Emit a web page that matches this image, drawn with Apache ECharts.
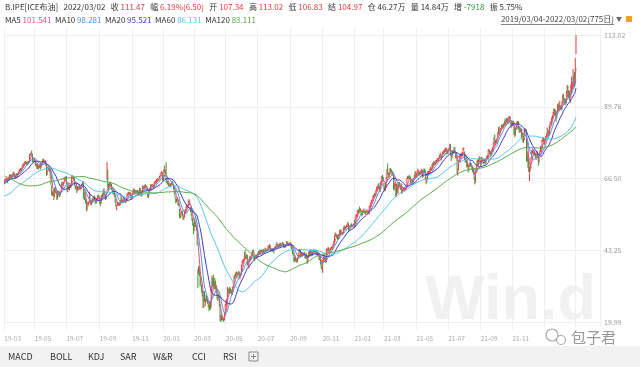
<!DOCTYPE html>
<html>
<head>
<meta charset="utf-8">
<script src="https://cdn.jsdelivr.net/npm/echarts@6/dist/echarts.min.js"></script>
<style>
html, body { margin: 0; padding: 0; background: #fff; }
#main { width: 640px; height: 367px; }
</style>
</head>
<body>
<div id="main"></div>
<script>
// 布油(B.IPE) 日K 2019/03/04 - 2022/03/02

var FONT = '"Noto Sans CJK SC", "Noto Sans", sans-serif';

// 休市日（周末以外）
var holidays = ['2019-04-19', '2019-12-25', '2020-01-01', '2020-04-10', '2020-12-25', '2021-01-01', '2021-04-02', '2021-12-27'];

// 区间开始前的收盘价，只用来算均线
var preClose = [78.1, 78.05, 79.0, 79.4, 78.7, 78.8, 81.2, 81.9, 81.3, 81.7, 82.7,
  85.0, 84.8, 86.3, 84.6, 84.2, 83.9, 85.0, 83.1, 80.3, 80.4, 80.8, 81.4, 80.05, 79.3, 79.8, 79.8, 76.4, 76.2, 76.9, 77.6, 77.3, 76.3, 75.5,
  72.9, 73.0, 72.2, 72.1, 72.1, 70.65, 70.2, 70.1, 65.5, 66.1, 66.6, 67.0, 66.8, 62.5, 63.8, 62.6, 58.8, 60.5, 60.2, 58.8, 59.5, 58.7,
  62.0, 61.1, 62.1, 60.1, 61.7, 60.0, 60.2, 60.15, 61.45, 60.3, 59.6, 56.3, 57.2, 54.35, 53.8, 50.5, 54.5, 52.2, 52.2, 53.8,
  54.9, 55.95, 57.06, 57.3, 58.7, 61.4, 61.7, 60.5, 59.0, 60.6, 61.3, 61.2, 62.7, 62.7, 61.5, 61.1, 61.1, 61.6, 59.9, 60.0, 61.3, 61.9,
  61.9, 62.5, 62.0, 62.7, 61.6, 62.1, 61.5, 62.4, 63.6, 64.6, 66.25, 66.5, 66.45, 67.1, 66.9, 67.1, 64.8, 65.2, 66.4, 66.3,
  65.1];

// 每月日K [开, 收, 低, 高]
var k2019_03 = [[65.2,65.7,64.8,66.1],[65.6,65.9,65.3,66.4],[65.9,66.0,65.4,66.6],[66.1,66.3,65.5,66.8],[66.2,65.7,65.0,66.4],[65.8,66.6,65.6,66.9],[66.5,66.7,66.1,67.1],[66.8,67.6,66.5,67.9],[67.5,67.2,66.9,67.8],[67.3,67.2,66.6,67.7],[67.1,67.5,66.9,67.7],[67.6,67.6,67.0,68.1],[67.7,68.5,67.4,68.7],[68.4,67.9,67.6,68.7],[67.8,67.0,66.6,68.0],[67.0,67.2,66.4,67.6],[67.3,68.0,67.0,68.2],[67.9,67.8,67.2,68.3],[67.7,67.8,66.9,68.2],[67.9,68.4,67.6,68.6]];
var k2019_04 = [[68.5,69.0,68.3,69.4],[69.1,69.4,68.6,69.7],[69.4,69.3,68.9,69.9],[69.3,69.4,68.9,69.8],[69.5,70.3,69.3,70.6],[70.4,71.1,70.0,71.3],[71.0,71.0,70.6,71.3],[70.9,71.7,70.7,71.9],[71.7,71.8,71.1,72.1],[71.9,71.6,71.3,72.3],[71.5,71.2,70.9,71.9],[71.3,71.7,71.1,72.0],[71.7,71.6,71.1,72.1],[71.7,72.0,71.4,72.3],[72.1,74.0,72.0,74.3],[74.0,74.5,73.8,74.8],[74.5,74.6,74.0,74.9],[74.6,74.4,74.2,75.6],[74.4,72.2,71.9,74.5],[72.3,72.0,71.5,72.6],[72.0,72.8,71.9,73.0]];
var k2019_05 = [[72.7,72.2,71.9,73.0],[72.1,70.8,70.6,72.3],[70.7,70.9,70.3,71.2],[70.0,71.2,69.6,71.4],[71.2,69.9,69.6,71.3],[69.8,70.4,69.3,70.6],[70.5,70.4,69.8,70.9],[70.3,70.6,69.9,71.0],[70.5,70.2,69.5,71.6],[70.3,71.2,70.1,71.4],[71.2,71.8,70.8,72.0],[71.8,72.6,71.6,72.8],[72.5,72.2,71.8,72.9],[72.1,72.0,71.5,72.3],[72.0,72.2,71.6,72.6],[72.2,71.0,70.6,72.3],[70.8,67.8,67.3,70.9],[67.9,68.7,67.7,69.0],[68.8,70.1,68.7,70.2],[70.0,70.1,69.3,70.4],[70.0,69.5,68.8,70.2],[69.4,66.9,66.7,69.5],[66.9,64.5,64.4,66.9]];
var k2019_06 = [[64.0,61.3,61.0,64.2],[61.2,61.3,60.8,62.3],[61.5,62.0,60.9,62.5],[61.9,60.6,59.5,62.1],[60.7,63.3,60.5,63.6],[63.2,62.3,62.0,63.9],[62.3,62.3,61.6,62.6],[62.2,60.0,59.5,62.3],[60.1,61.3,59.8,62.6],[61.4,62.0,61.2,62.6],[62.0,60.9,60.5,62.1],[60.9,62.1,60.5,62.4],[62.2,61.8,61.1,62.3],[62.0,64.5,61.9,64.8],[64.5,65.2,64.2,65.5],[65.1,64.9,64.2,65.4],[64.9,65.1,64.3,65.3],[65.2,66.5,65.0,66.9],[66.4,66.6,66.0,67.0],[66.6,66.6,66.1,67.2]];
var k2019_07 = [[66.9,65.1,64.8,67.3],[65.0,62.4,62.0,65.2],[62.6,63.8,62.2,64.1],[63.7,63.3,62.9,64.1],[63.3,64.2,62.7,64.5],[64.1,64.1,63.6,64.6],[64.1,64.2,63.4,64.6],[64.3,67.0,64.1,67.2],[67.0,67.0,66.4,67.6],[67.0,66.7,66.2,67.1],[66.7,66.5,65.9,67.1],[66.4,64.4,64.2,66.8],[64.4,63.7,63.0,64.5],[63.6,63.7,63.0,64.3],[63.6,62.5,61.8,64.2],[62.6,63.3,62.5,63.9],[63.3,63.3,62.9,64.0],[63.2,63.8,62.7,64.1],[63.8,63.4,63.1,64.1],[63.4,63.5,62.9,63.9],[63.6,63.7,63.1,64.0],[63.7,64.7,63.6,64.9],[64.7,65.2,64.3,65.4]];
var k2019_08 = [[65.1,60.5,60.1,65.6],[60.4,61.9,59.5,62.2],[61.6,59.8,59.4,62.0],[59.7,58.9,58.4,60.1],[59.0,56.2,55.9,59.5],[56.3,57.4,56.1,57.5],[57.5,58.5,57.3,58.8],[58.5,58.6,57.8,59.0],[58.6,61.3,58.4,62.3],[61.3,59.5,59.3,61.4],[59.5,58.2,57.8,59.6],[58.2,58.6,57.9,59.2],[58.7,59.7,58.5,60.1],[59.8,60.0,59.1,60.4],[60.0,60.3,59.7,60.8],[60.3,60.0,59.4,61.0],[60.0,59.3,58.4,60.4],[59.2,58.7,58.2,59.5],[58.7,59.5,58.6,60.2],[59.6,60.5,59.3,61.0],[60.5,61.1,60.2,61.3],[61.0,60.4,60.2,61.0]];
var k2019_09 = [[60.3,58.7,58.3,60.5],[58.9,58.3,57.6,59.0],[58.4,60.7,58.3,61.0],[60.8,60.2,59.9,61.3],[60.3,61.5,60.1,61.8],[61.6,62.6,61.2,63.0],[62.6,62.4,61.8,63.3],[62.3,60.8,60.5,62.4],[60.8,60.4,59.5,61.1],[60.3,60.2,59.8,60.8],[66.3,69.0,65.9,71.9],[68.7,64.6,63.4,69.3],[64.7,63.6,62.7,64.8],[63.6,64.4,63.3,64.9],[64.4,64.3,64.0,65.5],[64.2,64.8,63.6,65.0],[64.7,63.1,62.8,64.8],[63.1,62.4,61.8,63.5],[62.5,62.1,61.4,62.7],[62.1,61.9,61.3,62.4],[61.8,60.8,60.6,62.0]];
var k2019_10 = [[60.8,59.3,58.7,61.1],[59.2,57.7,57.4,59.4],[57.7,57.7,56.2,58.0],[57.8,58.4,57.6,58.7],[58.3,58.4,57.9,58.8],[58.4,58.2,57.7,59.0],[58.1,58.3,57.6,58.6],[58.2,59.1,57.9,59.5],[59.2,60.5,59.0,61.0],[60.4,59.4,59.0,60.6],[59.3,58.7,58.6,59.7],[58.8,59.4,58.5,59.7],[59.4,59.9,59.2,60.4],[59.8,59.4,58.8,60.2],[59.4,59.0,58.6,59.5],[59.0,59.7,58.8,60.0],[59.6,61.2,59.3,61.5],[61.1,61.7,60.8,61.9],[61.7,62.0,61.3,62.2],[61.8,61.6,61.3,62.1],[61.6,61.6,61.0,62.0],[61.6,60.6,60.2,62.0],[60.6,60.2,59.6,60.9]];
var k2019_11 = [[60.2,61.7,59.8,61.9],[61.8,62.1,61.6,62.6],[62.1,63.0,61.9,63.3],[62.9,62.3,61.6,63.1],[62.2,62.3,61.3,62.6],[62.3,62.5,61.8,62.8],[62.5,62.2,61.5,62.8],[62.2,62.1,61.8,62.6],[62.1,62.4,61.6,62.7],[62.3,61.3,61.2,62.5],[61.4,63.3,61.3,63.5],[63.2,62.4,62.1,63.4],[62.4,60.9,60.7,62.5],[60.9,62.4,60.6,62.7],[62.4,64.0,62.2,64.2],[63.9,63.4,63.1,64.2],[63.4,63.7,63.0,64.0],[63.6,64.3,63.4,64.5],[64.3,64.1,63.8,64.6],[64.0,63.9,63.5,64.3],[63.8,62.4,62.2,64.0]];
var k2019_12 = [[61.1,60.9,60.3,61.5],[61.0,61.0,60.2,61.4],[61.2,63.0,60.9,63.3],[63.0,63.0,62.7,63.6],[63.1,64.4,62.9,64.6],[64.3,64.3,63.9,64.7],[64.2,64.3,63.8,64.6],[64.3,64.3,63.9,64.7],[64.2,63.7,63.4,64.4],[63.8,65.2,63.6,65.5],[65.2,65.3,64.9,65.7],[65.3,65.3,64.9,65.9],[65.3,66.1,65.1,66.3],[66.1,66.5,65.9,66.6],[66.5,66.1,65.6,66.6],[66.1,66.4,65.9,66.5],[66.4,67.2,66.3,67.3],[67.2,67.9,67.2,68.0],[68.0,68.2,67.8,68.5],[68.2,68.4,68.0,69.0],[68.4,66.0,65.8,68.5]];
var k2020_01 = [[66.3,66.3,65.6,67.0],[66.5,68.6,66.1,69.5],[68.9,68.9,68.4,70.7],[68.9,68.3,67.9,69.2],[68.4,65.4,65.2,71.8],[65.5,65.4,64.9,66.0],[65.4,65.0,64.6,65.7],[64.9,64.2,64.0,65.1],[64.3,64.5,63.9,64.9],[64.4,64.0,63.6,64.6],[64.0,64.6,63.8,64.9],[64.6,64.9,64.3,65.1],[64.9,65.2,64.8,65.6],[65.3,64.6,64.3,65.7],[64.6,63.2,62.9,64.8],[63.3,62.0,61.6,63.4],[62.0,60.7,60.3,62.3],[60.1,59.3,58.5,60.3],[59.3,59.5,58.8,59.9],[59.6,59.8,59.3,60.5],[59.8,58.3,57.8,60.0],[58.4,58.2,57.5,59.5]];
var k2020_02 = [[56.6,54.5,53.8,56.7],[54.3,54.0,53.5,55.0],[54.2,55.3,53.7,55.6],[55.4,55.9,54.9,56.1],[55.8,54.5,54.3,56.0],[54.2,53.3,53.1,54.5],[53.6,54.0,53.1,54.5],[54.1,55.8,53.9,56.1],[55.8,56.3,55.2,56.6],[56.3,57.3,55.8,57.5],[57.3,57.7,56.9,58.1],[57.8,57.8,57.1,58.0],[57.8,59.1,57.7,59.3],[59.0,59.3,58.8,59.9],[59.2,58.5,57.8,59.4],[57.0,56.3,55.6,57.4],[56.4,55.0,54.4,56.6],[54.9,53.4,52.8,55.0],[53.3,52.2,51.2,53.6],[51.6,50.5,48.4,52.0]];
var k2020_03 = [[50.0,51.9,49.5,52.7],[52.0,51.9,50.9,53.8],[52.0,51.1,50.8,52.6],[51.3,50.0,49.6,51.5],[50.0,45.3,44.8,50.3],[36.5,34.4,31.0,37.2],[35.7,37.2,35.5,38.2],[37.3,35.8,34.8,37.9],[35.0,33.2,31.5,35.4],[32.6,33.9,31.9,34.6],[32.0,30.1,29.5,32.0],[30.2,28.7,28.3,30.5],[28.8,24.9,24.5,29.3],[25.8,28.5,24.6,29.0],[29.5,27.0,26.6,30.0],[26.4,27.0,25.1,27.6],[27.7,27.2,26.6,28.9],[27.5,27.4,26.4,28.4],[27.4,26.3,25.9,27.5],[26.2,24.9,24.8,26.6],[25.4,24.2,23.5,25.6],[24.3,26.3,24.0,26.8]];
var k2020_04 = [[26.0,24.7,24.0,26.4],[24.9,29.9,24.6,31.5],[30.5,34.1,29.9,35.0],[33.8,33.1,31.4,34.3],[33.5,31.9,31.6,35.3],[32.0,32.8,30.8,33.3],[33.0,31.5,30.6,34.3],[32.5,31.7,30.5,33.4],[31.5,29.6,29.3,32.0],[29.5,27.7,27.3,29.7],[27.9,27.8,26.8,28.3],[28.2,28.1,27.7,29.0],[27.9,25.6,25.1,28.3],[25.4,20.5,20.3,25.8],[20.6,20.4,19.99,22.4],[20.8,21.3,20.5,22.2],[21.4,21.4,20.7,22.0],[21.4,20.4,20.1,21.6],[20.6,20.5,20.2,21.3],[20.8,22.5,20.5,23.0],[22.8,25.3,22.6,25.8]];
var k2020_05 = [[25.9,26.4,25.5,27.1],[26.0,27.2,24.8,27.5],[27.4,31.0,27.2,31.4],[30.9,29.7,29.4,31.0],[29.8,29.5,28.9,30.5],[29.7,31.0,29.4,31.4],[31.0,29.6,29.3,31.1],[29.8,30.0,29.1,30.6],[30.1,29.2,28.9,30.4],[29.3,31.1,28.8,31.4],[31.2,32.5,30.9,32.7],[32.6,34.8,32.5,35.0],[34.8,34.7,33.9,35.4],[34.7,35.8,34.5,36.0],[35.8,36.1,35.5,36.4],[36.0,35.1,34.2,36.2],[35.2,35.5,35.0,35.9],[35.6,36.2,35.4,36.5],[36.1,34.7,34.4,36.3],[34.8,35.3,33.8,35.5],[35.2,35.3,34.7,35.8]];
var k2020_06 = [[35.8,38.3,35.2,38.6],[38.4,39.6,38.0,39.9],[39.6,39.8,38.9,40.4],[39.8,40.0,39.3,40.4],[40.2,42.3,40.1,42.6],[42.4,40.8,40.5,43.4],[40.8,41.2,40.3,41.5],[41.2,41.7,40.7,41.9],[41.7,38.6,38.4,41.8],[38.5,38.7,37.9,39.2],[38.6,39.7,37.3,39.9],[39.8,41.0,39.4,41.2],[40.9,40.7,40.0,41.3],[40.6,41.5,40.2,41.7],[41.6,42.2,41.3,42.5],[42.2,43.1,41.9,43.3],[43.1,42.6,42.3,43.5],[42.6,40.3,40.0,42.7],[40.3,41.1,39.8,41.3],[41.1,41.0,40.6,41.5],[41.0,41.7,40.5,41.9],[41.7,41.2,40.7,41.9]];
var k2020_07 = [[41.3,42.0,41.0,42.4],[42.1,42.8,41.9,43.0],[42.8,42.8,42.4,43.0],[42.9,42.1,42.0,43.5],[42.2,43.1,41.9,43.3],[43.1,43.3,42.8,43.5],[43.2,42.4,42.2,43.4],[42.3,43.2,41.8,43.4],[43.2,42.7,42.3,43.7],[42.6,42.9,42.1,43.2],[42.9,43.8,42.7,44.1],[43.8,43.4,43.0,43.9],[43.3,43.1,42.8,43.5],[43.1,43.3,42.9,43.8],[43.3,44.3,43.1,44.9],[44.3,44.3,43.8,44.6],[44.2,44.9,43.9,45.2],[44.9,43.3,43.0,45.0],[43.4,43.3,42.8,43.7],[43.3,43.4,42.9,43.8],[43.4,43.2,42.8,43.7],[43.3,43.8,42.9,44.0],[43.7,43.3,42.2,43.8]];
var k2020_08 = [[43.5,44.2,43.4,44.4],[44.1,44.4,43.6,44.6],[44.4,45.2,44.2,45.4],[45.2,45.1,44.8,45.9],[45.1,44.4,44.0,45.2],[44.4,45.0,44.2,45.3],[45.0,44.5,44.3,45.3],[44.6,45.4,44.3,45.7],[45.4,45.0,44.6,45.7],[45.0,44.8,44.5,45.2],[44.9,45.4,44.8,45.6],[45.4,45.5,44.9,46.0],[45.6,44.7,44.2,45.7],[44.6,44.9,44.1,45.1],[45.0,44.4,43.9,45.1],[44.4,45.1,44.3,45.3],[45.2,45.9,44.9,46.2],[45.9,45.6,45.3,46.1],[45.7,45.1,44.8,46.0],[45.1,45.1,44.6,45.5],[45.0,45.3,44.8,45.5]];
var k2020_09 = [[45.2,45.6,45.0,46.0],[45.5,44.4,44.2,45.7],[44.4,44.1,43.6,44.7],[44.0,42.7,42.0,44.1],[42.6,42.0,41.5,42.8],[41.9,39.8,39.3,42.0],[39.9,40.8,39.7,41.2],[40.8,40.1,39.6,41.1],[40.1,39.8,39.4,40.5],[39.8,39.6,39.2,40.6],[39.6,40.5,39.4,40.9],[40.6,42.2,40.4,42.3],[42.2,43.3,41.9,43.6],[43.3,43.2,42.8,43.7],[43.1,41.4,40.8,43.3],[41.4,41.7,41.3,42.0],[41.8,41.8,41.3,42.3],[41.8,41.9,41.3,42.1],[41.9,41.9,41.5,42.2],[42.0,42.4,41.6,42.8],[42.4,41.0,40.6,42.5],[41.0,41.0,40.5,41.4]];
var k2020_10 = [[42.1,40.9,40.6,42.3],[40.8,39.3,38.8,41.0],[39.4,41.3,39.2,41.5],[41.2,42.7,41.0,42.9],[42.6,42.0,41.5,43.0],[42.1,43.3,41.9,43.5],[43.3,42.9,42.4,43.6],[42.8,41.7,41.3,43.0],[41.7,42.5,41.4,42.7],[42.5,43.3,42.1,43.5],[43.3,43.2,42.6,43.6],[43.1,42.9,42.5,43.4],[42.9,42.6,42.1,43.2],[42.6,43.2,42.1,43.5],[43.2,41.7,41.5,43.3],[41.8,42.5,41.6,42.7],[42.5,41.8,41.3,42.7],[41.7,40.5,40.0,41.8],[40.5,41.2,40.1,41.5],[41.2,39.1,38.6,41.3],[39.1,37.7,37.3,39.3],[37.7,37.5,36.9,38.1]];
var k2020_11 = [[37.8,40.0,35.9,40.2],[40.0,40.7,39.4,41.2],[40.8,41.2,40.1,42.1],[41.2,40.9,40.3,41.6],[40.9,39.5,39.1,41.0],[39.5,42.4,39.4,43.8],[42.4,43.6,42.0,43.8],[43.6,43.8,43.2,44.2],[43.9,43.5,43.1,44.2],[43.4,42.8,42.2,43.6],[42.8,43.8,42.5,44.0],[43.8,43.8,43.3,44.2],[43.8,44.3,43.6,44.5],[44.3,44.2,43.5,44.5],[44.2,45.0,43.9,45.2],[45.1,46.1,44.9,46.3],[46.1,47.9,45.9,48.1],[47.9,48.6,47.7,49.0],[48.6,47.8,47.5,48.7],[47.8,48.2,47.5,48.4],[47.9,47.6,46.6,48.2]];
var k2020_12 = [[47.9,47.4,46.8,48.5],[47.4,48.3,46.9,48.6],[48.3,48.7,48.0,49.9],[48.7,49.3,48.5,49.9],[49.2,48.8,48.4,49.9],[48.7,48.8,48.3,49.1],[48.8,48.9,48.4,49.2],[48.9,50.3,48.7,50.6],[50.3,51.0,49.7,51.3],[50.9,50.3,49.8,51.0],[50.3,50.8,50.1,51.0],[50.8,51.1,50.6,51.4],[51.1,51.5,50.8,51.7],[51.5,52.3,51.2,52.5],[52.0,50.9,49.6,52.0],[50.8,50.1,49.8,51.0],[50.1,51.2,49.9,51.3],[51.2,51.3,50.9,51.6],[51.5,50.9,50.7,52.0],[50.9,51.1,50.6,51.3],[51.2,51.3,51.0,51.7],[51.3,51.8,51.1,52.0]];
var k2021_01 = [[51.9,51.1,50.4,53.0],[51.2,53.6,50.8,53.9],[53.7,54.3,53.6,54.9],[54.3,54.4,53.9,54.9],[54.5,56.0,54.3,56.3],[56.0,55.7,55.0,56.3],[55.8,56.6,55.2,56.7],[56.5,56.1,55.7,57.4],[56.0,56.4,55.6,56.8],[56.3,55.1,54.7,56.4],[55.1,54.8,54.2,55.3],[54.8,55.9,54.7,56.1],[55.8,56.1,55.5,56.4],[56.1,56.1,55.5,56.7],[56.0,55.4,55.1,56.1],[55.4,55.9,54.9,56.0],[55.9,55.9,55.4,56.2],[55.9,56.0,55.5,56.5],[55.9,55.5,54.8,56.0],[55.6,55.9,55.1,56.2]];
var k2021_02 = [[55.0,57.3,54.9,57.5],[57.3,57.5,56.9,58.0],[57.5,58.5,57.3,58.8],[58.5,59.3,58.3,59.5],[59.3,59.3,58.8,59.8],[59.4,60.6,59.2,60.9],[60.6,61.1,60.2,61.3],[61.2,61.1,60.6,61.7],[61.1,61.5,60.9,61.8],[61.4,62.4,60.6,62.8],[62.5,63.3,62.3,63.8],[63.3,63.4,62.9,64.2],[63.4,64.3,63.2,64.6],[64.4,63.9,63.2,65.0],[63.9,62.9,62.2,64.0],[63.0,65.2,62.2,65.3],[65.3,65.4,64.1,65.6],[65.4,67.0,64.9,67.2],[67.1,66.9,66.0,67.7],[66.7,66.1,65.5,67.0]];
var k2021_03 = [[64.4,63.7,62.9,64.9],[63.6,62.7,62.3,64.1],[62.8,64.1,62.5,64.9],[64.0,66.7,63.7,67.0],[66.8,69.4,66.6,69.6],[69.5,68.2,67.8,71.4],[68.2,67.5,66.8,68.5],[67.4,67.9,66.9,68.2],[67.9,69.6,67.6,69.8],[69.6,69.2,68.8,69.9],[69.2,68.9,68.3,69.5],[68.8,68.4,67.6,68.9],[68.4,68.0,67.4,68.8],[67.9,63.3,62.9,68.2],[63.4,64.5,62.6,64.8],[64.5,64.6,63.7,65.5],[64.5,60.8,60.5,64.6],[61.0,64.4,60.7,64.9],[64.3,62.0,61.8,64.5],[62.1,64.6,61.6,64.9],[64.7,65.0,63.7,65.4],[65.0,64.1,63.8,65.4],[64.1,63.5,62.9,64.3]];
var k2021_04 = [[63.2,64.9,62.7,65.0],[64.5,62.2,61.5,64.7],[62.1,62.7,61.8,63.0],[62.7,63.2,62.5,63.7],[63.2,63.2,62.5,63.7],[63.2,63.0,62.3,63.6],[62.9,63.3,62.6,63.8],[63.3,63.7,62.9,64.0],[63.8,66.6,63.5,66.8],[66.6,66.9,66.3,67.4],[66.9,66.8,66.4,67.3],[66.7,67.1,66.3,67.7],[67.1,66.6,66.3,67.4],[66.6,65.3,64.9,67.0],[65.3,65.4,64.4,65.6],[65.5,66.1,65.2,66.4],[66.0,65.7,64.9,66.1],[65.7,66.4,65.3,66.6],[66.5,67.3,66.1,67.6],[67.3,68.6,67.1,68.9],[68.6,67.3,66.6,68.7]];
var k2021_05 = [[67.1,67.6,66.8,68.1],[67.6,68.9,67.3,69.2],[69.0,69.0,68.4,69.7],[68.9,68.1,67.6,69.0],[68.1,68.3,67.5,68.7],[68.3,68.3,67.9,69.1],[68.3,68.6,67.6,68.9],[68.6,69.3,68.2,69.6],[69.2,67.1,66.8,69.3],[67.1,68.7,66.9,68.8],[68.8,69.5,68.4,69.7],[69.5,68.7,68.5,69.7],[68.7,66.7,66.0,69.2],[66.4,65.1,64.6,66.8],[65.1,66.4,65.1,66.9],[66.5,68.5,66.3,68.8],[68.4,68.7,67.9,69.0],[68.6,68.9,68.1,69.1],[68.9,69.5,68.3,69.7],[69.5,69.6,69.2,70.3],[69.6,69.3,69.0,69.9]];
var k2021_06 = [[69.6,70.3,69.2,71.1],[70.2,71.4,69.9,71.6],[71.3,71.3,70.7,72.0],[71.3,71.9,71.0,72.1],[71.8,71.5,70.8,71.9],[71.5,72.2,71.1,72.4],[72.2,72.2,71.5,72.6],[72.2,72.5,71.9,73.0],[72.5,72.7,72.1,73.1],[72.7,72.9,72.0,73.3],[72.9,73.9,72.8,74.1],[73.9,74.4,73.6,74.9],[74.5,73.1,72.3,74.6],[73.0,73.5,72.6,73.8],[73.4,74.9,73.1,75.3],[74.9,74.8,74.2,75.2],[74.8,75.2,74.6,75.7],[75.2,75.6,74.9,76.0],[75.6,76.2,75.3,76.4],[76.2,76.2,75.4,76.6],[76.1,74.8,74.3,76.3],[74.9,75.1,74.5,75.5]];
var k2021_07 = [[74.6,75.8,74.5,76.2],[75.8,76.2,75.5,76.4],[76.3,77.2,76.1,77.8],[77.1,74.5,73.9,77.6],[74.2,73.4,72.2,74.8],[73.6,74.1,73.0,74.3],[74.1,75.6,73.9,75.7],[75.4,75.2,74.5,75.8],[75.2,76.5,74.9,76.6],[76.6,75.0,74.7,76.8],[74.8,73.5,73.2,75.1],[73.6,73.6,72.9,74.0],[73.4,68.6,68.0,73.6],[68.7,69.4,67.4,69.7],[69.4,72.2,69.2,72.4],[72.0,73.8,71.9,74.0],[73.8,74.1,73.4,74.4],[74.1,74.5,73.3,74.6],[74.4,74.5,73.8,74.9],[74.5,74.7,73.6,75.0],[74.7,76.1,74.4,76.4],[76.1,76.3,75.7,76.6]];
var k2021_08 = [[75.2,72.9,72.5,75.3],[72.8,72.4,71.6,73.3],[72.4,72.4,71.8,73.1],[72.5,70.4,70.1,72.8],[70.5,70.7,70.2,71.5],[70.6,69.0,68.4,70.7],[69.1,70.6,69.0,70.9],[70.5,71.4,70.3,71.6],[71.4,71.3,70.5,71.8],[71.2,70.6,70.2,71.5],[70.6,69.5,69.2,70.8],[69.4,69.0,68.6,70.0],[69.1,68.2,67.9,69.4],[68.2,66.5,66.2,68.6],[66.4,65.2,64.6,66.8],[65.3,68.8,65.1,69.0],[68.9,71.1,68.7,71.2],[71.1,72.3,70.8,72.4],[72.3,71.1,70.8,72.6],[71.1,72.7,70.8,72.8],[72.7,73.4,72.4,73.7],[73.3,71.6,71.1,73.5]];
var k2021_09 = [[71.6,71.6,70.6,72.3],[71.6,73.0,71.4,73.5],[73.1,72.6,72.1,73.3],[72.6,72.2,71.9,73.1],[72.1,71.7,71.1,72.4],[71.7,72.6,71.5,72.9],[72.7,71.5,71.2,73.1],[71.5,72.9,71.4,73.1],[73.0,73.5,72.4,73.8],[73.5,73.6,72.9,74.0],[73.6,75.5,73.2,75.8],[75.5,75.7,75.3,76.1],[75.6,75.3,74.6,75.9],[75.2,74.9,73.5,75.3],[74.9,74.4,73.9,75.4],[74.5,75.5,74.3,76.0],[75.5,76.2,75.2,76.6],[76.2,78.1,75.9,78.3],[78.2,79.5,78.0,80.0],[79.4,78.1,77.8,80.8],[78.2,78.6,77.2,78.9],[78.6,78.5,77.9,79.1]];
var k2021_10 = [[78.3,79.3,77.7,79.6],[79.3,81.3,79.1,81.5],[81.3,82.6,81.0,83.1],[82.6,81.1,80.5,83.5],[81.1,82.0,80.5,82.2],[82.0,82.4,81.7,82.9],[82.5,83.7,82.2,84.0],[83.7,83.4,82.9,84.0],[83.4,83.2,82.6,84.0],[83.3,84.0,83.0,84.4],[84.0,84.9,83.8,85.1],[84.8,84.3,83.7,86.0],[84.3,85.1,83.8,85.4],[85.1,85.8,84.9,86.1],[85.8,84.6,84.4,86.2],[84.6,85.5,84.1,85.8],[85.6,86.0,85.2,86.7],[86.0,86.4,85.8,86.7],[86.4,84.6,84.3,86.5],[84.6,84.3,82.8,84.8],[84.2,84.4,83.3,84.8]];
var k2021_11 = [[83.8,84.7,83.5,85.0],[84.8,84.7,83.9,85.2],[84.5,81.0,80.6,84.6],[81.2,80.5,79.9,83.1],[80.6,82.7,80.4,82.9],[82.7,83.4,82.3,83.7],[83.4,84.8,83.1,85.0],[84.8,84.8,83.8,85.2],[84.9,82.6,82.3,85.1],[82.7,82.2,81.4,83.4],[82.2,82.1,81.3,82.8],[82.1,82.4,81.6,82.7],[82.4,80.3,79.5,82.6],[80.2,81.2,79.9,81.5],[81.2,78.9,78.2,81.4],[78.8,79.7,78.1,80.4],[79.8,82.3,78.9,82.5],[82.3,82.3,81.5,82.8],[82.3,82.2,81.8,82.6],[82.0,72.7,72.1,82.3],[73.2,73.4,71.9,75.3],[73.6,70.6,69.8,74.2]];
var k2021_12 = [[71.2,68.9,68.6,73.3],[69.2,69.7,65.7,70.3],[69.8,69.9,68.9,71.4],[70.1,73.1,69.8,73.4],[73.0,75.4,72.9,75.6],[75.4,75.8,74.5,76.2],[75.8,75.2,74.9,76.1],[75.2,75.2,74.1,75.6],[75.2,74.4,73.9,75.5],[74.3,73.7,73.0,74.9],[73.7,73.9,72.5,74.3],[73.9,75.0,73.7,75.6],[75.0,73.5,73.0,75.2],[73.3,71.5,70.6,73.5],[71.7,74.0,71.6,74.2],[74.0,75.3,73.8,75.6],[75.3,76.9,75.1,77.1],[76.9,76.1,75.8,76.9],[76.2,78.9,76.0,79.0],[78.9,79.2,78.4,79.7],[79.2,79.3,78.4,79.9],[79.3,77.8,77.4,79.5]];
var k2022_01 = [[77.7,79.0,77.5,79.3],[79.0,80.0,78.6,80.3],[80.1,80.8,79.8,81.1],[80.8,82.0,80.3,83.0],[82.0,81.8,81.2,82.6],[81.7,80.9,80.2,82.0],[80.9,83.7,80.7,83.8],[83.7,84.7,83.5,84.9],[84.8,84.5,83.9,85.1],[84.5,86.1,84.3,86.3],[86.1,86.5,85.6,87.0],[86.5,87.5,86.1,88.1],[87.5,88.4,87.0,89.2],[88.5,88.4,87.2,89.1],[88.3,87.9,86.7,88.8],[87.8,86.3,84.9,88.0],[86.3,88.2,86.0,88.4],[88.2,90.0,88.0,90.5],[90.0,89.3,88.5,91.0],[89.3,90.0,88.6,90.5],[90.0,91.2,89.1,91.7]];
var k2022_02 = [[90.0,89.2,88.7,90.2],[89.2,89.5,88.6,90.0],[89.4,91.1,88.9,91.5],[91.1,93.3,90.8,93.7],[93.2,92.7,91.7,94.0],[92.6,90.8,90.5,92.7],[90.8,91.6,90.3,91.9],[91.6,91.4,90.4,92.1],[91.4,94.4,90.9,95.0],[94.5,96.5,94.1,96.8],[96.4,93.3,92.9,96.7],[93.2,94.8,92.6,95.1],[94.8,93.0,91.8,95.0],[92.9,93.5,90.9,93.8],[93.6,95.4,92.9,97.0],[95.4,96.8,94.2,99.5],[96.8,96.8,95.6,97.6],[97.0,99.1,96.8,102.0],[99.0,97.9,96.0,100.0],[99.5,98.0,96.2,101.0]];
var k2022_03 = [[98.5,105.0,97.4,105.6],[107.34,111.47,106.83,113.02]];

var monthList = [k2019_03, k2019_04, k2019_05, k2019_06, k2019_07, k2019_08, k2019_09, k2019_10, k2019_11, k2019_12,
  k2020_01, k2020_02, k2020_03, k2020_04, k2020_05, k2020_06, k2020_07, k2020_08, k2020_09, k2020_10, k2020_11, k2020_12,
  k2021_01, k2021_02, k2021_03, k2021_04, k2021_05, k2021_06, k2021_07, k2021_08, k2021_09, k2021_10, k2021_11, k2021_12,
  k2022_01, k2022_02, k2022_03];

// 右侧价格刻度
var yTicks = [19.99, 43.25, 66.50, 89.76, 113.02];

// 均线
var maDays = [5, 10, 20, 60, 120];
var maColors = ['#e5507c', '#4f92dc', '#4338c8', '#55c4ea', '#5aab48'];

// 顶部行情文字
var symbolName = 'B.IPE[ICE布油]';
var quoteDate = '2022/03/02';
var quoteNames = ['收', '幅', '开', '高', '低', '结', '仓', '量', '增', '振'];
var quoteValues = ['111.47', '6.19%(6.50)', '107.34', '113.02', '106.83', '104.97', '46.27万', '14.84万', '-7918', '5.75%'];
var quoteTone = ['r', 'r', 'r', 'r', 'r', 'r', 'k', 'k', 'g', 'k'];
var maNames = ['MA5', 'MA10', 'MA20', 'MA60', 'MA120'];
var maLast = ['101.541', '98.281', '95.521', '86.131', '83.111'];
var rangeText = '2019/03/04-2022/03/02(775日)';
var toolNames = ['MACD', 'BOLL', 'KDJ', 'SAR', 'W&R', 'CCI', 'RSI'];

var upColor = '#ee3b3b';
var downColor = '#3d9636';

// 交易日
function fmtDay(d) {
  var m = d.getUTCMonth() + 1, dd = d.getUTCDate();
  return d.getUTCFullYear() + '-' + (m < 10 ? '0' : '') + m + '-' + (dd < 10 ? '0' : '') + dd;
}
var days = [];
for (var t = Date.UTC(2019, 2, 4); t <= Date.UTC(2022, 2, 2); t += 86400000) {
  var d = new Date(t), wd = d.getUTCDay(), s = fmtDay(d);
  if (wd === 0 || wd === 6 || holidays.indexOf(s) >= 0) continue;
  days.push(s);
}

var kData = [];
monthList.forEach(function (m) { kData = kData.concat(m); });

// 右侧留白
var categories = days.slice();
for (var i = 1; i <= 32; i++) categories.push('+' + i);

var allClose = preClose.concat(kData.map(function (r) { return r[1]; }));
function calcMA(n) {
  var out = [];
  for (var i = preClose.length; i < allClose.length; i++) {
    var sum = 0;
    for (var j = i - n + 1; j <= i; j++) sum += allClose[j];
    out.push(+(sum / n).toFixed(3));
  }
  return out;
}

// 单数月第一个交易日
function isMark(index) {
  if (index >= days.length) return false;
  var m = days[index].slice(5, 7);
  if (index > 0 && days[index - 1].slice(5, 7) === m) return false;
  return (+m) % 2 === 1;
}

var chart = echarts.init(document.getElementById('main'));

var richStyle = {
  k: { fill: '#333', fontSize: 8, fontFamily: FONT },
  r: { fill: '#e0393e', fontSize: 8, fontFamily: FONT },
  g: { fill: '#2d9a3a', fontSize: 8, fontFamily: FONT }
};
maColors.forEach(function (c, i) { richStyle['m' + i] = { fill: c, fontSize: 8, fontFamily: FONT }; });

var gap = '   ';
var line1 = '{k|' + symbolName + '}' + gap + '{k|' + quoteDate + '}';
quoteNames.forEach(function (n, i) {
  line1 += gap + '{k|' + n + '} {' + quoteTone[i] + '|' + quoteValues[i] + '}';
});
var line2 = maNames.map(function (n, i) {
  return '{k|' + n + '} {m' + i + '|' + maLast[i] + '}';
}).join('  ');

var measure = document.createElement('canvas').getContext('2d');
measure.font = '8px ' + FONT;
var rangeW = measure.measureText(rangeText).width;

var graphics = [
  { type: 'text', x: 5, y: 7, silent: true, style: { text: line1, rich: richStyle, fontSize: 8, fontFamily: FONT, fill: '#333', verticalAlign: 'middle' } },
  { type: 'text', x: 5, y: 20, silent: true, style: { text: line2, rich: richStyle, fontSize: 8, fontFamily: FONT, fill: '#333', verticalAlign: 'middle' } },
  { type: 'text', x: 614, y: 19, silent: true, style: { text: rangeText, fontSize: 8, fontFamily: FONT, fill: '#444', align: 'right', verticalAlign: 'middle' } },
  { type: 'line', silent: true, shape: { x1: 614 - rangeW, y1: 24.5, x2: 614, y2: 24.5 }, style: { stroke: '#666', lineWidth: 0.8 } },
  { type: 'text', x: 616, y: 19, silent: true, style: { text: '▼', fontSize: 6, fontFamily: FONT, fill: '#666', verticalAlign: 'middle' } },
  { type: 'rect', silent: true, shape: { x: 626, y: 16, width: 6, height: 6 }, style: { fill: '#f0a030' } },
  // Wind 水印
  { type: 'text', x: 425, y: 302, z: -1, silent: true, style: { text: 'Win.d', fontSize: 63, fontWeight: 'bold', fontFamily: '"Liberation Sans", Arial, sans-serif', fill: '#f1f1f1', verticalAlign: 'middle' } },
  // 包子君 水印
  { type: 'rect', z: 50, silent: true, shape: { x: 538, y: 327, width: 90, height: 18 }, style: { fill: '#fff' } },
  { type: 'circle', z: 51, silent: true, shape: { cx: 552, cy: 335, r: 6 }, style: { fill: 'none', stroke: '#aaa', lineWidth: 1.2 } },
  { type: 'circle', z: 51, silent: true, shape: { cx: 561, cy: 340, r: 4.5 }, style: { fill: '#fff', stroke: '#aaa', lineWidth: 1.2 } },
  { type: 'text', z: 51, x: 571, y: 337, silent: true, style: { text: '包子君', fontSize: 15, fontFamily: FONT, fill: '#999', verticalAlign: 'middle' } },
  // 底部指标栏
  { type: 'rect', silent: true, shape: { x: 0, y: 346, width: 640, height: 21 }, style: { fill: '#f2f2f2' } },
  { type: 'rect', silent: true, shape: { x: 249, y: 352, width: 9, height: 9 }, style: { fill: 'none', stroke: '#888', lineWidth: 1 } },
  { type: 'line', silent: true, shape: { x1: 253.5, y1: 354, x2: 253.5, y2: 359 }, style: { stroke: '#888', lineWidth: 1 } },
  { type: 'line', silent: true, shape: { x1: 251, y1: 356.5, x2: 256, y2: 356.5 }, style: { stroke: '#888', lineWidth: 1 } }
];
var toolX = [8, 50, 88, 120, 153, 192, 223];
toolNames.forEach(function (n, i) {
  graphics.push({ type: 'text', x: toolX[i], y: 357, silent: true, style: { text: n, fontSize: 9, fontFamily: FONT, fill: '#333', verticalAlign: 'middle' } });
});

var series = [{
  name: 'K',
  type: 'candlestick',
  data: kData,
  itemStyle: { color: upColor, color0: downColor, borderColor: upColor, borderColor0: downColor, borderWidth: 1 }
}];
maDays.forEach(function (n, i) {
  series.push({
    name: maNames[i],
    type: 'line',
    data: calcMA(n),
    showSymbol: false,
    symbol: 'none',
    silent: true,
    lineStyle: { width: 1, color: maColors[i] },
    itemStyle: { color: maColors[i] },
    z: 3
  });
});

chart.setOption({
  animation: false,
  backgroundColor: '#fff',
  grid: { left: 4, right: 40, top: 28, bottom: 37 },
  xAxis: {
    type: 'category',
    data: categories,
    boundaryGap: true,
    axisLine: { show: false },
    axisTick: { show: false },
    axisLabel: {
      interval: function (index) { return isMark(index); },
      formatter: function (v) { return v.slice(2, 7); },
      align: 'left',
      margin: 5,
      fontSize: 6.5,
      color: '#aaa',
      fontFamily: FONT
    },
    splitLine: {
      show: true,
      interval: function (index) { return isMark(index); },
      lineStyle: { color: '#eeeeee', width: 1 }
    }
  },
  yAxis: {
    type: 'value',
    position: 'right',
    min: 17.40,
    max: 115.29,
    axisLine: { show: true, lineStyle: { color: '#eeeeee' } },
    axisTick: { show: false, customValues: yTicks },
    axisLabel: {
      customValues: yTicks,
      formatter: function (v) { return v.toFixed(2); },
      margin: 4,
      fontSize: 7,
      color: '#999',
      fontFamily: FONT
    },
    splitLine: { show: true, lineStyle: { color: '#eeeeee', width: 1 } }
  },
  graphic: { elements: graphics },
  series: series
});
</script>
</body>
</html>
